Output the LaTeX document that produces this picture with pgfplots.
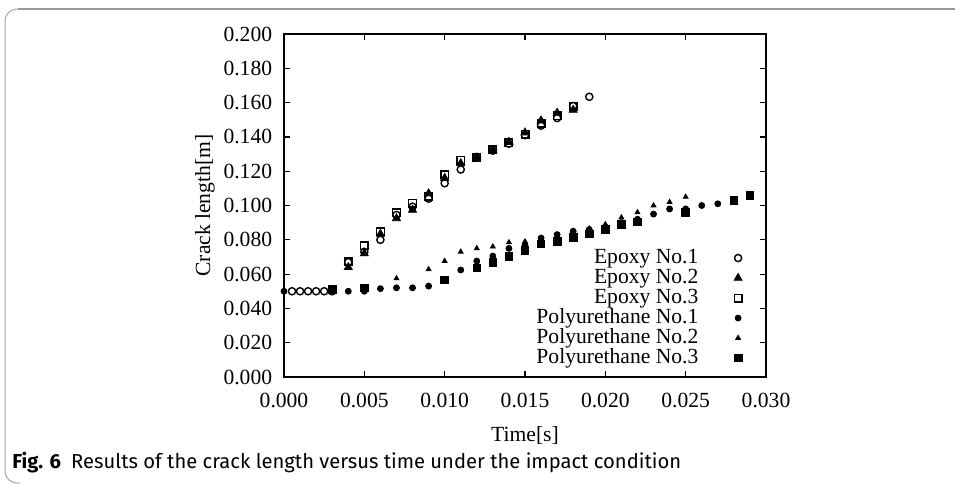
\documentclass[border=0pt]{standalone}
\usepackage{fontspec}
\setmainfont{Liberation Serif}
\newfontfamily\capfont{Fira Sans}
\usepackage{pgfplots}
\pgfplotsset{compat=1.18}
\begin{document}
\begin{tikzpicture}
\path[use as bounding box] (0,0) rectangle (477.5pt,-242pt);
% frame
\draw[gray!80, line width=1pt] (477.5pt,-4.5pt) -- (9pt,-4.5pt);
\draw[gray!70, line width=0.5pt, rounded corners=6pt] (9pt,-4.5pt) -- (2.5pt,-4.5pt) -- (2.5pt,-241.5pt) -- (10pt,-241.5pt);
\begin{axis}[
  at={(142pt,-188.5pt)}, anchor=south west,
  width=241pt, height=171.5pt, scale only axis,
  xmin=0, xmax=0.03, ymin=0, ymax=0.2,
  xtick={0,0.005,0.01,0.015,0.02,0.025,0.03},
  ytick={0,0.02,0.04,0.06,0.08,0.1,0.12,0.14,0.16,0.18,0.2},
  scaled ticks=false,
  /pgf/number format/assume math mode=true,
  /pgf/number format/fixed,
  /pgf/number format/fixed zerofill,
  /pgf/number format/precision=3,
  every x tick label/.append style={yshift=-4.5pt},
  every y tick label/.append style={xshift=-2.4pt},
  tick label style={font=\fontsize{10.8}{12}\selectfont},
  label style={font=\fontsize{10.8}{12}\selectfont},
  axis line style={line width=1pt},
  every tick/.style={black, line width=0.6pt},
  major tick length=3pt,
  xlabel={Time[s]}, ylabel={Crack length[m]},
  xlabel style={at={(axis description cs:0.5,-0.169)}, anchor=center},
  ylabel style={at={(axis description cs:-0.164,0.5)}, anchor=center},
  legend plot pos=right,
  legend cell align=right,
  legend style={draw=none, fill=none, inner sep=0pt, outer sep=0pt,
    at={(rel axis cs:0.954,0.376)}, anchor=north east,
    font=\fontsize{10.8}{12}\selectfont,
    row sep=0pt,
    nodes={inner sep=0pt, text height=7.5pt, text depth=2.5pt}},
  legend image code/.code={\path (0pt,0pt) (22pt,0pt); \draw[mark repeat=1,mark phase=1,#1] plot coordinates {(19.5pt,0pt)};},
]
% Epoxy No.1
\addplot[only marks, mark=o, mark size=1.8pt, line width=0.7pt] coordinates {
(0.0005,0.050)(0.001,0.050)(0.0015,0.050)(0.002,0.050)(0.0025,0.050)(0.003,0.050)
(0.004,0.067)(0.005,0.073)(0.006,0.080)(0.007,0.0945)(0.008,0.0993)(0.009,0.104)
(0.010,0.113)(0.011,0.121)(0.012,0.128)(0.013,0.132)(0.014,0.136)(0.015,0.141)
(0.016,0.1466)(0.017,0.151)(0.018,0.158)(0.019,0.1634)};
\addlegendentry{Epoxy No.1}
% Epoxy No.2
\addplot[only marks, mark=triangle*, mark size=2.3pt] coordinates {
(0.004,0.064)(0.005,0.072)(0.006,0.0834)(0.007,0.0925)(0.008,0.0974)(0.009,0.107)
(0.010,0.116)(0.011,0.1246)(0.012,0.128)(0.013,0.132)(0.014,0.137)(0.015,0.1425)
(0.016,0.1495)(0.017,0.154)(0.018,0.1557)};
\addlegendentry{Epoxy No.2}
% Epoxy No.3
\addplot[only marks, mark=square, mark size=1.9pt, line width=0.7pt] coordinates {
(0.004,0.0672)(0.005,0.0764)(0.006,0.0847)(0.007,0.0958)(0.008,0.1013)(0.009,0.1055)
(0.010,0.118)(0.011,0.1265)(0.012,0.128)(0.013,0.1325)(0.014,0.1365)(0.015,0.1415)
(0.016,0.148)(0.017,0.1525)(0.018,0.158)};
\addlegendentry{Epoxy No.3}
% Polyurethane No.1
\addplot[only marks, mark=*, mark size=1.5pt] coordinates {
(0,0.050)(0.004,0.050)(0.005,0.050)(0.006,0.0515)(0.007,0.052)(0.008,0.052)(0.009,0.053)
(0.010,0.057)(0.011,0.0624)(0.012,0.0676)(0.013,0.0705)(0.014,0.075)(0.015,0.077)
(0.016,0.081)(0.017,0.083)(0.018,0.085)(0.019,0.086)(0.020,0.0875)(0.021,0.090)
(0.022,0.092)(0.023,0.095)(0.024,0.098)(0.025,0.098)(0.026,0.100)(0.027,0.101)};
\addlegendentry{Polyurethane No.1}
% Polyurethane No.2
\addplot[only marks, mark=triangle*, mark size=1.4pt] coordinates {
(0.007,0.0575)(0.009,0.0628)(0.010,0.0676)(0.011,0.073)(0.012,0.075)
(0.013,0.076)(0.014,0.0785)(0.015,0.079)(0.016,0.081)(0.017,0.083)(0.018,0.085)
(0.019,0.0865)(0.020,0.089)(0.021,0.093)(0.022,0.096)(0.023,0.100)(0.024,0.102)(0.025,0.105)};
\addlegendentry{Polyurethane No.2}
% Polyurethane No.3
\addplot[only marks, mark=square*, mark size=1.9pt] coordinates {
(0.003,0.051)(0.005,0.052)(0.010,0.0566)(0.012,0.0637)(0.013,0.0669)
(0.014,0.0705)(0.015,0.0737)(0.016,0.0776)(0.017,0.079)(0.018,0.0815)(0.019,0.0835)
(0.020,0.086)(0.021,0.089)(0.022,0.0905)(0.025,0.096)(0.028,0.103)(0.029,0.106)};
\addlegendentry{Polyurethane No.3}
\end{axis}
\node[anchor=base west, inner sep=0pt, font=\capfont\fontsize{10.1}{12}\selectfont] at (6pt,-234pt) {\textbf{Fig. 6}\hspace{0.5em}Results of the crack length versus time under the impact condition};
\end{tikzpicture}
\end{document}
